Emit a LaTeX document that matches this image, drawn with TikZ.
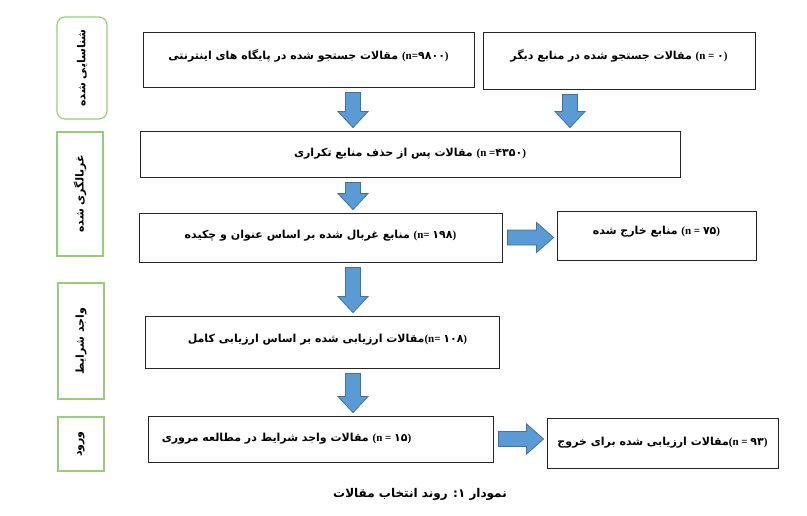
\documentclass[tikz,border=0pt]{standalone}
\usepackage{fontspec}
\usepackage{tikz}
\usetikzlibrary{calc}
\TeXXeTstate=1
\newfontfamily\arabicfont[Script=Arabic]{DejaVu Sans}
\newfontfamily\latinfont{Liberation Serif}
\newcommand\lat[1]{{\latinfont #1}}
\definecolor{stagegreen}{HTML}{9CCB7E}
\definecolor{arrowblue}{HTML}{5B9BD5}
\definecolor{arrowedge}{HTML}{41719C}

\tikzset{
  box/.style={draw=black!85, line width=0.9pt, inner sep=2pt,
    font=\arabicfont\bfseries\fontsize{11}{13}\selectfont},
  stage/.style={draw=stagegreen, line width=1.2pt, inner sep=2pt, rotate=90,
    font=\arabicfont\bfseries\fontsize{11}{13}\selectfont},
  textup/.style={text depth=#1},
  blockdown/.style={fill=arrowblue, draw=arrowedge, line width=0.8pt,
    to path={let \p1=(\tikztostart), \p2=(\tikztotarget) in
      (\x1-7.5pt,\y1-5pt) -- (\x1+7.5pt,\y1-5pt) -- (\x1+7.5pt,\y2+19pt)
      -- (\x1+15pt,\y2+19pt) -- (\x1,\y2+3pt) -- (\x1-15pt,\y2+19pt)
      -- (\x1-7.5pt,\y2+19pt) -- cycle}},
  blockright/.style={fill=arrowblue, draw=arrowedge, line width=0.8pt,
    to path={let \p1=(\tikztostart), \p2=(\tikztotarget) in
      (\x1+5pt,\y1+7.5pt) -- (\x2-20pt,\y1+7.5pt) -- (\x2-20pt,\y1+15pt)
      -- (\x2-3pt,\y1) -- (\x2-20pt,\y1-15pt) -- (\x2-20pt,\y1-7.5pt)
      -- (\x1+5pt,\y1-7.5pt) -- cycle}}
}

\begin{document}
\begin{tikzpicture}[x=1pt, y=-1pt]
      \useasboundingbox (0,0) rectangle (807,515);

      \node[stage, rounded corners=8pt, minimum width=102, minimum height=50] (ident) at (82,68) {\beginR شناسایی شده\endR};
      \node[stage, minimum width=124, minimum height=46] (scr) at (80,194) {\beginR غربالگری شده\endR};
      \node[stage, minimum width=116, minimum height=46] (elig) at (81,341) {\beginR واجد شرایط\endR};
      \node[stage, minimum width=54, minimum height=46] (incl) at (81,444) {\beginR ورود\endR};

      \node[box, minimum width=331, minimum height=55, textup=10pt] (web) at (308.5,59.5) {\beginR مقالات جستجو شده در پایگاه های اینترنتی\endR\ \lat{(n=}۹۸۰۰\lat{)}};
      \node[box, minimum width=272, minimum height=57, textup=12pt] (other) at (619,60.5) {\beginR مقالات جستجو شده در منابع دیگر\endR\ \lat{(n = }۰\lat{)}};

      \node[box, minimum width=540, minimum height=46] (dedup) at (410,154) {\beginR مقالات پس از حذف منابع تکراری\endR\ \lat{(n =}۴۳۵۰\lat{)}};

      \node[box, minimum width=363, minimum height=49, textup=6pt] (title) at (320.5,237.5) {\beginR منابع غربال شده بر اساس عنوان و چکیده\endR\ \lat{(n= }۱۹۸\lat{)}};
      \node[box, minimum width=199, minimum height=49, textup=10pt] (excl) at (656.5,235.5) {\beginR منابع خارج شده\endR\ \lat{(n = }۷۵\lat{)}};

      \node[box, minimum width=354, minimum height=52, textup=7pt] (full) at (322,342) {\hspace*{11pt}\beginR مقالات ارزیابی شده بر اساس ارزیابی کامل\endR\lat{(n= }۱۰۸\lat{)}};

      \node[box, minimum width=345, minimum height=46] (rev) at (320.5,439) {\beginR مقالات واجد شرایط در مطالعه مروری\endR\ \lat{(n = }۱۵\lat{)}\hspace*{68pt}};
      \node[box, minimum width=231, minimum height=50] (out) at (662.5,443) {\beginR مقالات ارزیابی شده برای خروج\endR\lat{(n = }۹۳\lat{)}};

      \coordinate (colA) at (353,0);
      \coordinate (colB) at (570,0);

      \draw[blockdown] (web.south -| colA) to (dedup.north -| colA);
      \draw[blockdown] (other.south -| colB) to (dedup.north -| colB);
      \draw[blockdown] (dedup.south -| colA) to (title.north -| colA);
      \draw[blockdown] (title.south -| colA) to (full.north -| colA);
      \draw[blockdown] (full.south -| colA) to (rev.north -| colA);

      \draw[blockright] (title.east) to (excl.west |- title.east);
      \draw[blockright] (rev.east) to (out.west |- rev.east);

      \node[font=\arabicfont\bfseries\fontsize{12}{14}\selectfont] (cap) at (420,494) {\beginR نمودار ۱: روند انتخاب مقالات\endR};

    \end{tikzpicture}
\end{document}
